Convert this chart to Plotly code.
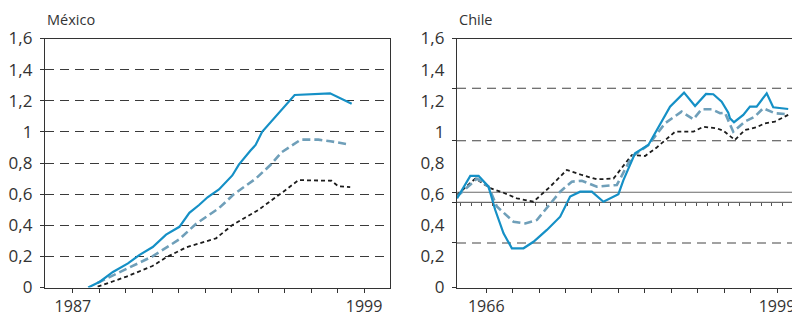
import numpy as np
import plotly.graph_objects as go

# ---------------- data ----------------
mx_blue_x = [1987.63, 1988.11, 1988.65, 1989.27, 1989.75, 1990.29, 1990.84, 1991.39, 1991.80, 1992.20,
             1992.55, 1993.02, 1993.57, 1993.84, 1994.32, 1994.53, 1994.80, 1995.35, 1996.14, 1997.60, 1998.49]
mx_blue_y = [0.0, 0.037, 0.10, 0.155, 0.21, 0.26, 0.34, 0.39, 0.48, 0.53,
             0.58, 0.63, 0.72, 0.79, 0.88, 0.916, 1.0, 1.10, 1.237, 1.248, 1.18]

mx_light_x = [1988.02, 1989.21, 1990.28, 1991.39, 1992.08, 1993.02, 1993.64, 1994.54, 1995.16, 1995.61,
              1996.39, 1997.12, 1997.61, 1998.35]
mx_light_y = [0.03, 0.12, 0.20, 0.31, 0.41, 0.51, 0.60, 0.70, 0.79, 0.87, 0.95, 0.95, 0.94, 0.92]

mx_black_x = [1988.02, 1989.21, 1990.28, 1990.85, 1991.67, 1992.90, 1993.56, 1994.66, 1995.77, 1996.30,
              1997.66, 1997.94, 1998.43]
mx_black_y = [0.005, 0.07, 0.138, 0.194, 0.258, 0.316, 0.40, 0.50, 0.627, 0.69, 0.686, 0.65, 0.645]

cl_blue_x = [1962.68, 1964.19, 1965.13, 1966.26, 1967.02, 1967.96, 1968.91, 1970.23, 1971.36, 1972.88,
             1974.39, 1975.52, 1976.66, 1977.98, 1979.30, 1981.00, 1981.57, 1982.89, 1984.40, 1986.86,
             1988.45, 1989.70, 1990.94, 1991.77, 1992.72, 1993.47, 1993.66, 1994.12, 1995.17, 1995.93,
             1996.69, 1997.83, 1998.57, 2000.27]
cl_blue_y = [0.573, 0.717, 0.717, 0.648, 0.498, 0.348, 0.252, 0.252, 0.294, 0.37,
             0.455, 0.584, 0.616, 0.616, 0.551, 0.60, 0.69, 0.862, 0.916, 1.162,
             1.252, 1.166, 1.244, 1.242, 1.194, 1.123, 1.087, 1.062, 1.109, 1.162,
             1.162, 1.248, 1.158, 1.147]

cl_light_x = [1962.68, 1964.95, 1966.26, 1967.21, 1969.10, 1970.42, 1971.75, 1972.88, 1974.39, 1975.71,
              1976.85, 1978.55, 1980.82, 1982.52, 1984.40, 1986.29, 1988.17, 1989.50, 1990.44, 1991.58,
              1992.53, 1993.09, 1994.03, 1995.36, 1996.49, 1997.43, 1998.76, 2000.27]
cl_light_y = [0.584, 0.70, 0.648, 0.52, 0.423, 0.412, 0.434, 0.509, 0.616, 0.68,
              0.686, 0.648, 0.659, 0.84, 0.916, 1.055, 1.13, 1.081, 1.145, 1.145,
              1.12, 1.123, 1.001, 1.066, 1.098, 1.152, 1.12, 1.113]

cl_black_x = [1962.68, 1964.76, 1966.46, 1967.96, 1969.48, 1971.36, 1973.25, 1975.14, 1976.85, 1978.55,
              1980.44, 1982.52, 1984.03, 1985.35, 1987.43, 1989.50, 1990.63, 1992.15, 1992.91, 1994.22,
              1995.36, 1996.68, 1997.63, 1998.76, 2000.27]
cl_black_y = [0.594, 0.70, 0.638, 0.609, 0.573, 0.551, 0.648, 0.755, 0.723, 0.695,
              0.70, 0.851, 0.845, 0.90, 1.001, 1.001, 1.033, 1.023, 1.008, 0.948,
              1.012, 1.03, 1.055, 1.066, 1.109]

# reference lines in the Chile panel
cl_dashed_levels = [1.28, 0.943, 0.286]
cl_solid_levels = [0.612, 0.5475]

y_ticks = [0, 0.2, 0.4, 0.6, 0.8, 1.0, 1.2, 1.4, 1.6]
y_labels = ["0", "0,2", "0,4", "0,6", "0,8", "1", "1,2", "1,4", "1,6"]

mx_first, mx_last = 1987, 1999
cl_first, cl_last = 1966, 1999

# ---------------- styling ----------------
OFF = 8                      # page body margin
W, H = 800 - OFF, 317 - OFF
BLUE = "#1590c6"
LIGHT = "#6f9fb9"
BLACK = "#1c1c1c"
AX = "#333333"
FONT = "Open Sans"
FS = 17
FSX = 16

def py(p):  # screen pixel y -> paper
    return 1 - (p - OFF) / H

def px(p):
    return (p - OFF) / W

ydom = [py(287.5), py(38.5)]
x1dom = [px(45), px(390)]
x2dom = [px(457), 1.0]

fig = go.Figure()

def add_series(xs, ys, color, width, dash, xa, ya):
    fig.add_trace(go.Scatter(x=xs, y=ys, mode="lines", xaxis=xa, yaxis=ya,
                             line=dict(color=color, width=width, dash=dash),
                             showlegend=False, hoverinfo="skip"))

# Mexico (draw order: black, light, blue on top)
add_series(mx_black_x, mx_black_y, BLACK, 1.8, "4px,3px", "x", "y")
add_series(mx_light_x, mx_light_y, LIGHT, 2.6, "8px,4px", "x", "y")
add_series(mx_blue_x, mx_blue_y, BLUE, 2.2, "solid", "x", "y")

# Chile
add_series(cl_black_x, cl_black_y, BLACK, 1.8, "4px,3px", "x2", "y2")
add_series(cl_light_x, cl_light_y, LIGHT, 2.6, "8px,4px", "x2", "y2")
add_series(cl_blue_x, cl_blue_y, BLUE, 2.2, "solid", "x2", "y2")

# dummy trace for overlay axes
fig.add_trace(go.Scatter(x=[None], y=[None], xaxis="x3", yaxis="y3", showlegend=False, hoverinfo="skip"))

mx_ticks = list(np.linspace(mx_first, mx_last, 12))
mx_text = [str(mx_first)] + [""] * 10 + [str(mx_last)]
cl_ticks = list(np.linspace(cl_first, cl_last, 12))
cl_text = [str(cl_first)] + [""] * 10 + [str(cl_last)]

mx_range = [1985.85, 2000.07]
cl_range = [1962.68, 2001.61]

common_x = dict(showline=True, linecolor=AX, linewidth=1.3, ticks="outside", ticklen=4,
                tickcolor=AX, tickwidth=1, showgrid=False, zeroline=False, tickmode="array",
                ticklabelstandoff=0,
                tickfont=dict(family=FONT, size=FSX, color="#333"), automargin=False)
common_y = dict(showline=True, linecolor=AX, linewidth=1.3, zeroline=False, range=[0, 1.6],
                tickmode="array", tickvals=y_ticks, ticktext=y_labels,
                tickfont=dict(family=FONT, size=FS, color="#333"), automargin=False)

# Chile secondary tick line position
pos3 = ydom[0] + (cl_solid_levels[1] / 1.6) * (ydom[1] - ydom[0])
cl_pxyr = (777 - 486) / (cl_last - cl_first)
minor_step_yr = 10.75 / cl_pxyr
minor_start_yr = cl_first + (460 - 486) / cl_pxyr
minor_vals = list(np.arange(minor_start_yr, 2001.0, minor_step_yr))

fig.update_layout(
    width=W, height=H, margin=dict(l=0, r=0, t=0, b=0),
    paper_bgcolor="white", plot_bgcolor="white",
    xaxis=dict(domain=x1dom, anchor="y", range=mx_range, tickvals=mx_ticks, ticktext=mx_text,
               mirror=True, **common_x),
    yaxis=dict(domain=ydom, anchor="x", mirror=True, ticks="outside", ticklen=4, tickcolor=AX,
               ticklabelstandoff=4,
               showgrid=True, gridcolor="#3a3a3a", gridwidth=1, griddash="9px,6px", **common_y),
    xaxis2=dict(domain=x2dom, anchor="y2", range=cl_range, tickvals=cl_ticks, ticktext=cl_text,
                mirror=True, **common_x),
    yaxis2=dict(domain=ydom, anchor="x2", mirror=False, ticks="", showgrid=False,
                ticklabelstandoff=8, **common_y),
    xaxis3=dict(overlaying="x2", anchor="free", position=pos3, range=cl_range, side="bottom",
                showline=False, ticks="outside", ticklen=3, tickcolor="#555", tickwidth=1,
                tickmode="array", tickvals=minor_vals, showticklabels=False, showgrid=False,
                zeroline=False, automargin=False),
    yaxis3=dict(overlaying="y2", anchor="x2", side="left", range=[0, 1.6], showline=False,
                ticks="outside", ticklen=4, tickcolor=AX, tickmode="array",
                tickvals=[0] + cl_dashed_levels + cl_solid_levels + [1.6],
                showticklabels=False, showgrid=False, zeroline=False, automargin=False),
)

for lv in cl_dashed_levels:
    fig.add_shape(type="line", xref="x2 domain", yref="y2", x0=0, x1=1, y0=lv, y1=lv,
                  line=dict(color="#444", width=1.1, dash="9px,6px"), layer="below")
for lv in cl_solid_levels:
    fig.add_shape(type="line", xref="x2 domain", yref="y2", x0=0, x1=1, y0=lv, y1=lv,
                  line=dict(color="#6a6a6a", width=1.2), layer="below")

fig.add_annotation(text="México", xref="paper", yref="paper", x=px(45), y=py(20),
                   xanchor="left", yanchor="middle", showarrow=False,
                   font=dict(family=FONT, size=14.5, color="#333"))
fig.add_annotation(text="Chile", xref="paper", yref="paper", x=px(457), y=py(20),
                   xanchor="left", yanchor="middle", showarrow=False,
                   font=dict(family=FONT, size=14.5, color="#333"))

fig.write_html("out.html")
